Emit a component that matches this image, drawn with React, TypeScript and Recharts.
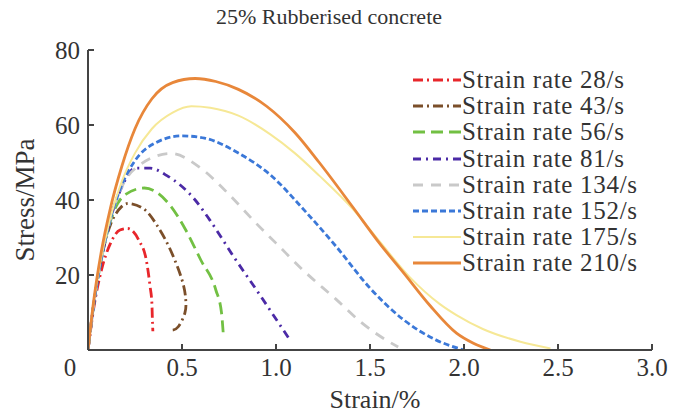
import { Line, LineChart, XAxis, YAxis } from "recharts";

const FONT = '"Liberation Serif", "Times New Roman", serif';

const strainTicks = [0, 0.5, 1.0, 1.5, 2.0, 2.5, 3.0];
const stressTicks = [0, 20, 40, 60, 80];

// strain (%) / stress (MPa) per strain rate
const strain28 = [0, 0.03, 0.07, 0.12, 0.17, 0.21, 0.27, 0.31, 0.33, 0.34, 0.342, 0.345];
const stress28 = [0, 11, 21, 28.5, 32, 32.4, 29.3, 24, 17, 12.4, 8.9, 5];

const strain43 = [0, 0.03, 0.07, 0.12, 0.18, 0.23, 0.3, 0.36, 0.43, 0.5, 0.52, 0.515, 0.48, 0.45];
const stress43 = [0, 12, 24, 33.5, 38.3, 39, 37.5, 33.8, 27.6, 18.7, 13.3, 9.8, 6.2, 5.3];

const strain56 = [0, 0.03, 0.07, 0.12, 0.2, 0.3, 0.43, 0.52, 0.6, 0.68, 0.71, 0.72];
const stress56 = [0, 12, 24, 34.5, 41.5, 43.2, 39, 32, 24, 16, 10, 4];

const strain81 = [0, 0.03, 0.07, 0.12, 0.18, 0.25, 0.33, 0.42, 0.57, 0.65, 0.78, 0.91, 1.01, 1.07];
const stress81 = [0, 12, 24, 35, 43.5, 48.5, 48.5, 46.5, 40, 34.5, 24.5, 15, 7.5, 3];

const strain134 = [0, 0.03, 0.07, 0.12, 0.18, 0.28, 0.44, 0.6, 0.74, 0.9, 1.0, 1.15, 1.32, 1.45, 1.55, 1.65];
const stress134 = [0, 12, 24, 35, 43.5, 49.5, 52.4, 48.5, 42, 33.5, 28.5, 21, 13.5, 7.5, 3.8, 0.8];

const strain152 = [0, 0.03, 0.07, 0.12, 0.18, 0.25, 0.35, 0.5, 0.62, 0.8, 0.97, 1.15, 1.32, 1.5, 1.68, 1.85, 2.0];
const stress152 = [0, 12, 24, 35, 44, 50.5, 55, 57.1, 56.5, 52.5, 46.7, 37.3, 27.6, 16.5, 8, 2.7, 0];

const strain175 = [0, 0.03, 0.07, 0.12, 0.18, 0.25, 0.34, 0.45, 0.55, 0.65, 0.8, 0.97, 1.1, 1.23, 1.41, 1.55, 1.71, 1.87, 1.96, 2.1, 2.3, 2.46];
const stress175 = [0, 12.5, 24.5, 35.5, 45, 52.5, 59, 63.3, 65, 64.6, 62.5, 57.5, 52.5, 46.5, 37.5, 29, 19.5, 12.3, 9.3, 5.6, 2.2, 0.4];

const strain210 = [0, 0.03, 0.07, 0.12, 0.18, 0.25, 0.34, 0.45, 0.57, 0.68, 0.8, 0.95, 1.1, 1.23, 1.41, 1.55, 1.68, 1.82, 1.96, 2.05, 2.14];
const stress210 = [0, 13, 26, 38, 49, 59, 67, 71.3, 72.4, 71.6, 69.5, 65, 58, 50, 38, 28.5, 20.5, 11.8, 4.5, 1.8, 0];

const rateLabels = ["28/s", "43/s", "56/s", "81/s", "134/s", "152/s", "175/s", "210/s"];

const zip = (xs: number[], ys: number[]) => xs.map((x, i) => ({ x, y: ys[i] }));

const series = [
  { name: rateLabels[0], data: zip(strain28, stress28), color: "#e8262b", dash: "10 4 2 4", width: 2.8, curve: "monotoneX" },
  { name: rateLabels[1], data: zip(strain43, stress43), color: "#7b4f2a", dash: "10 4 2 4", width: 2.8, curve: "natural" },
  { name: rateLabels[2], data: zip(strain56, stress56), color: "#72c043", dash: "12 6", width: 2.8, curve: "monotoneX" },
  { name: rateLabels[3], data: zip(strain81, stress81), color: "#4b2aa6", dash: "8 5 2 5", width: 2.8, curve: "monotoneX" },
  { name: rateLabels[4], data: zip(strain134, stress134), color: "#c9c9c9", dash: "10 8", width: 2.8, curve: "monotoneX" },
  { name: rateLabels[5], data: zip(strain152, stress152), color: "#3b78d8", dash: "6 3", width: 2.8, curve: "monotoneX" },
  { name: rateLabels[6], data: zip(strain175, stress175), color: "#f6e896", dash: undefined, width: 2, curve: "monotoneX" },
  { name: rateLabels[7], data: zip(strain210, stress210), color: "#e8873a", dash: undefined, width: 2.8, curve: "monotoneX" },
];

const axisColor = "#444";

function XTick(props: any) {
  const { x, y, payload } = props;
  const v = payload.value as number;
  const label = v === 0 ? "0" : v.toFixed(1);
  return (
    <text x={v === 0 ? x - 18 : x} y={y} dy="0.71em" textAnchor="middle" fill="#333" fontSize={25} fontFamily={FONT}>
      {label}
    </text>
  );
}

function YTick(props: any) {
  const { x, y, payload } = props;
  if (payload.value === 0) return null;
  return (
    <text x={x} y={y} dy="0.355em" textAnchor="end" fill="#333" fontSize={25} fontFamily={FONT}>
      {payload.value}
    </text>
  );
}

export default function App() {
  return (
    <div style={{ position: "absolute", left: 0, top: 0, width: 673, height: 416, background: "#fff", fontFamily: FONT }}>
      <div style={{ position: "absolute", left: 0, width: 658, top: 4, textAlign: "center", fontSize: 22, color: "#333" }}>
        25% Rubberised concrete
      </div>
      <LineChart width={673} height={416} margin={{ top: 50, right: 21, bottom: 30, left: 28 }}>
        <XAxis
          dataKey="x"
          type="number"
          domain={[0, 3]}
          ticks={strainTicks}
          allowDataOverflow
          stroke={axisColor}
          strokeWidth={2}
          tickSize={-6}
          tickMargin={14}
          height={36}
          tick={<XTick />}
        />
        <XAxis xAxisId="top" orientation="top" type="number" domain={[0, 3]} tick={false} tickLine={false} height={0} stroke={axisColor} strokeWidth={1.5} />
        <YAxis
          type="number"
          domain={[0, 80]}
          ticks={stressTicks}
          allowDataOverflow
          stroke={axisColor}
          strokeWidth={2}
          tickSize={-6}
          tickMargin={14}
          width={60}
          tick={<YTick />}
        />
        <YAxis yAxisId="right" orientation="right" domain={[0, 80]} tick={false} tickLine={false} width={0} stroke={axisColor} strokeWidth={1.5} />
        {series.map((s) => (
          <Line
            key={s.name}
            data={s.data}
            dataKey="y"
            type={s.curve as any}
            stroke={s.color}
            strokeWidth={s.width}
            strokeDasharray={s.dash}
            dot={false}
            isAnimationActive={false}
          />
        ))}
      </LineChart>
      <div style={{ position: "absolute", left: 412, top: 67, fontSize: 25, letterSpacing: "0.7px", color: "#333", lineHeight: "26.2px" }}>
        {series.map((s) => (
          <div key={s.name} style={{ display: "flex", alignItems: "center", whiteSpace: "nowrap", height: 26.2 }}>
            <svg width={50} height={10}>
              <line x1={1} y1={5} x2={49} y2={5} stroke={s.color} strokeWidth={s.width} strokeDasharray={s.dash} />
            </svg>
            <span>Strain rate {s.name}</span>
          </div>
        ))}
      </div>
      <div
        style={{
          position: "absolute",
          left: 25,
          top: 200,
          transform: "translate(-50%, -50%) rotate(-90deg)",
          fontSize: 27,
          color: "#333",
          whiteSpace: "nowrap",
        }}
      >
        Stress/MPa
      </div>
      <div style={{ position: "absolute", left: 375, top: 400, transform: "translate(-50%, -50%)", fontSize: 26, color: "#333" }}>
        Strain/%
      </div>
    </div>
  );
}
